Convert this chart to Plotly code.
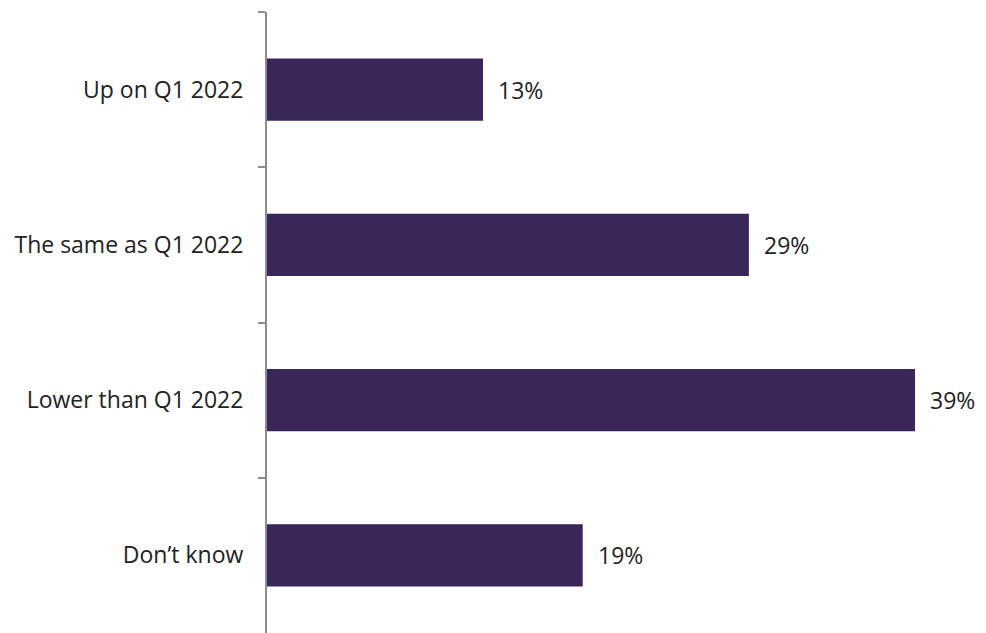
import plotly.graph_objects as go

# Survey responses and their shares (%)
categories = ["Up on Q1 2022", "The same as Q1 2022", "Lower than Q1 2022", "Don\u2019t know"]
shares = [13, 29, 39, 19]
share_labels = [f"{v}%" for v in shares]

BAR_COLOR = "#3a2659"
TEXT_COLOR = "#222222"
AXIS_COLOR = "#8c8c8c"
FONT = "Open Sans"
FONT_SIZE = 23

fig = go.Figure()
fig.add_trace(
    go.Bar(
        x=shares,
        y=categories,
        orientation="h",
        marker=dict(color=BAR_COLOR, line=dict(width=0)),
        hoverinfo="skip",
    )
)

# Value labels just past the end of each bar
for cat, val, lab in zip(categories, shares, share_labels):
    fig.add_annotation(
        x=val, y=cat, text=lab, showarrow=False,
        xanchor="left", yanchor="middle", xshift=13,
        font=dict(family=FONT, size=FONT_SIZE, color=TEXT_COLOR),
    )

fig.update_layout(
    width=986,
    height=633,
    margin=dict(l=267, r=0, t=12, b=0),
    paper_bgcolor="white",
    plot_bgcolor="white",
    bargap=0.6,
    showlegend=False,
    font=dict(family=FONT, size=FONT_SIZE, color=TEXT_COLOR),
)
fig.update_xaxes(
    range=[0, 43.27],
    visible=False,
    showgrid=False,
    zeroline=False,
)
fig.update_yaxes(
    categoryorder="array",
    categoryarray=categories,
    autorange="reversed",
    showline=True,
    linecolor=AXIS_COLOR,
    linewidth=2,
    ticks="outside",
    tickson="boundaries",
    ticklen=7,
    tickwidth=2,
    tickcolor=AXIS_COLOR,
    ticklabelstandoff=17,
    showgrid=False,
    zeroline=False,
    tickfont=dict(family=FONT, size=FONT_SIZE, color=TEXT_COLOR),
)

fig.write_html("out.html")
